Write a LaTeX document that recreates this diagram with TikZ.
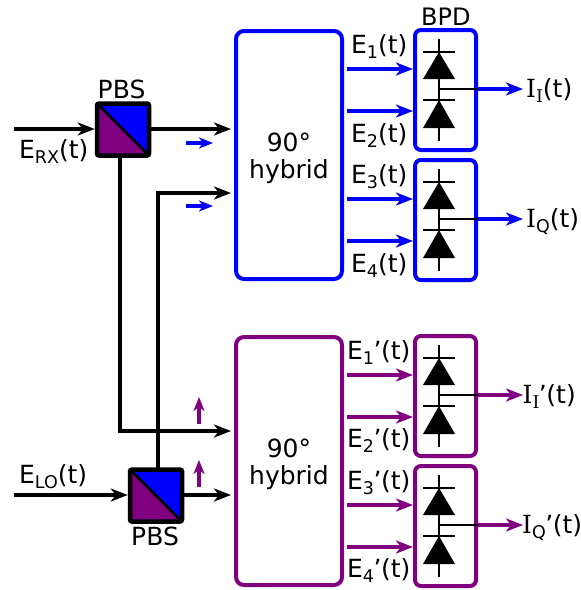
\documentclass[tikz,border=0pt]{standalone}
\usepackage{fontspec}
\setmainfont{DejaVu Sans}
\newfontfamily\serifI{DejaVu Serif}
\usetikzlibrary{arrows.meta}
\definecolor{myblue}{RGB}{0,0,255}
\definecolor{mypurple}{RGB}{128,0,128}
\newcommand{\serI}{{\serifI I}}
\newcommand{\subs}[1]{\raisebox{-5pt}{\fontsize{17.5}{18}\selectfont #1}}
\newcommand{\prm}{\kern-0.5pt'\kern-0.5pt}
\tikzset{
  x=1pt,y=-1pt,
  lbl/.style={anchor=base west,inner sep=0pt,font=\fontsize{25}{28}\selectfont},
  clbl/.style={anchor=base,inner sep=0pt,font=\fontsize{25}{28}\selectfont},
  hybridbox/.style={draw=#1,line width=4pt,rounded corners=8pt,minimum width=106pt,minimum height=248pt,inner sep=0pt,align=center},
  bpdbox/.style={draw=#1,line width=4pt,rounded corners=6pt,minimum width=61pt,minimum height=120pt,inner sep=0pt},
  pbsbox/.style={draw=black,line width=4.5pt,rounded corners=2pt,minimum width=52pt,minimum height=52pt,inner sep=0pt},
  beam/.style={black,line width=4.5pt,shorten >=3pt,-{Stealth[length=17pt,width=13pt,inset=5pt]}},
  sig/.style={#1,line width=4.5pt,-{Stealth[length=17pt,width=13pt,inset=5pt]}},
  pol/.style={#1,line width=3.6pt,-{Stealth[length=14pt,width=11pt,inset=4pt]}},
  wire/.style={black,line width=2pt},
}
% #1 name, #2 top y, #3 colour
\newcommand{\bpd}[3]{
  \node[bpdbox=#3] (#1) at (445.5,#2+60) {};
  \draw[wire] (439,#2+9) -- (439,#2+111);
  \draw[wire] (423,#2+22) -- (455,#2+22);
  \draw[wire] (423,#2+70) -- (455,#2+70);
  \fill[black] (439,#2+22) -- (455,#2+49) -- (423,#2+49) -- cycle;
  \fill[black] (439,#2+70) -- (455,#2+98) -- (423,#2+98) -- cycle;
  \draw[wire] (439,#2+59) -- (#1.east|-0,#2+59);
}
% #1 name, #2 centre x, #3 centre y
\newcommand{\pbs}[3]{
  \fill[myblue] (#2-24,#3-24) rectangle (#2+24,#3+24);
  \fill[mypurple] (#2-24,#3-24) -- (#2+24,#3+24) -- (#2-24,#3+24) -- cycle;
  \draw[black,line width=2.5pt] (#2-24,#3-24) -- (#2+24,#3+24);
  \node[pbsbox] (#1) at (#2,#3) {};
}
\begin{document}
\begin{tikzpicture}
\useasboundingbox (0,0) rectangle (581,590);
% hybrids
\node[hybridbox=myblue] (hybA) at (289,155) {};
\node[hybridbox=mypurple] (hybB) at (289,461) {};
\node[clbl] at (289,151) {90°};
\node[clbl] at (289,178) {hybrid};
\node[clbl] at (289,457) {90°};
\node[clbl] at (289,484) {hybrid};
% BPDs
\bpd{bpdA}{30}{myblue}
\bpd{bpdB}{160}{myblue}
\bpd{bpdC}{336}{mypurple}
\bpd{bpdD}{466}{mypurple}
% PBS
\pbs{pbsA}{123}{129.5}
\pbs{pbsB}{156}{495.5}
\coordinate (inA) at (14,129);
\coordinate (inB) at (14,495);
\draw[beam,shorten >=0pt] (inA) -- (pbsA.west|-inA);
\draw[beam,shorten >=0pt] (inB) -- (pbsB.west|-inB);
\draw[beam] (pbsA.east|-inA) -- (hybA.west|-inA);
\draw[beam] (pbsB.east|-inB) -- (hybB.west|-inB);
\draw[beam] (120,156) -- (120,431) -- (hybB.west|-0,431);
\draw[beam] (158,469) -- (158,193) -- (hybA.west|-0,193);
% hybrid to BPD signals
\foreach \y/\h/\b/\c in {69/hybA/bpdA/myblue,111/hybA/bpdA/myblue,199/hybA/bpdB/myblue,241/hybA/bpdB/myblue,375/hybB/bpdC/mypurple,417/hybB/bpdC/mypurple,505/hybB/bpdD/mypurple,547/hybB/bpdD/mypurple}
  \draw[sig=\c] (347,\y) -- (413,\y);
% outputs
\foreach \y/\b/\c in {89/bpdA/myblue,219/bpdB/myblue,395/bpdC/mypurple,525/bpdD/mypurple}
  \draw[sig=\c] (\b.east|-0,\y) -- (523,\y);
% polarisation markers
\draw[pol=myblue] (186,143) -- (213,143);
\draw[pol=myblue] (186,206) -- (213,206);
\draw[pol=mypurple] (199,424) -- (199,397);
\draw[pol=mypurple] (199,487) -- (199,460);
% labels
\node[lbl] at (97.5,98) {PBS};
\node[lbl] at (131,545) {PBS};
\node[lbl] at (421,25) {\fontsize{24}{28}\selectfont BPD};
\node[lbl] at (19,158) {E\subs{RX}(t)};
\node[lbl] at (19,483) {E\subs{LO}(t)};
\node[lbl] at (351,53) {E\subs{1}(t)};
\node[lbl] at (351,142) {E\subs{2}(t)};
\node[lbl] at (351,183) {E\subs{3}(t)};
\node[lbl] at (351,272) {E\subs{4}(t)};
\node[lbl] at (347,359) {E\subs{1}\prm(t)};
\node[lbl] at (347,447) {E\subs{2}\prm(t)};
\node[lbl] at (347,489) {E\subs{3}\prm(t)};
\node[lbl] at (347,577) {E\subs{4}\prm(t)};
\node[lbl] at (526,97) {\serI\subs{\serI}(t)};
\node[lbl] at (526,227) {\serI\subs{Q}(t)};
\node[lbl] at (522.5,403) {\serI\subs{\serI}\prm(t)};
\node[lbl] at (522,533) {\serI\subs{Q}\prm(t)};
\end{tikzpicture}
\end{document}
